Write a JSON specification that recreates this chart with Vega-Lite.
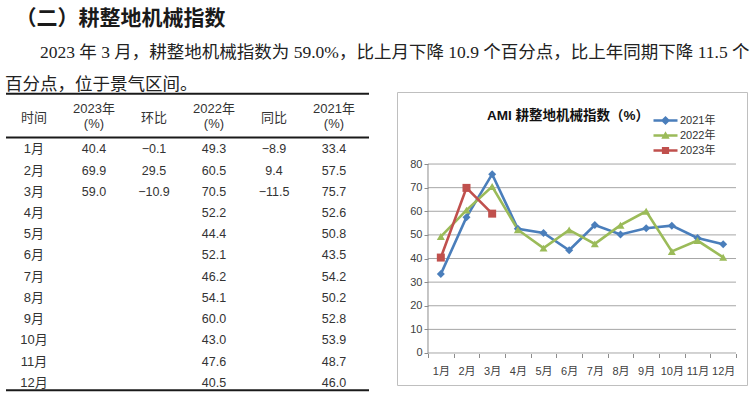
{
  "$schema": "https://vega.github.io/schema/vega-lite/v6.json",
  "padding": {"left": 5, "top": 8, "right": 0, "bottom": 0},
  "background": "white",
  "datasets": {
    "table": [
      {"月份": "1月", "2023年": 40.4, "环比": -0.1, "2022年": 49.3, "同比": -8.9, "2021年": 33.4},
      {"月份": "2月", "2023年": 69.9, "环比": 29.5, "2022年": 60.5, "同比": 9.4, "2021年": 57.5},
      {"月份": "3月", "2023年": 59.0, "环比": -10.9, "2022年": 70.5, "同比": -11.5, "2021年": 75.7},
      {"月份": "4月", "2023年": null, "环比": null, "2022年": 52.2, "同比": null, "2021年": 52.6},
      {"月份": "5月", "2023年": null, "环比": null, "2022年": 44.4, "同比": null, "2021年": 50.8},
      {"月份": "6月", "2023年": null, "环比": null, "2022年": 52.1, "同比": null, "2021年": 43.5},
      {"月份": "7月", "2023年": null, "环比": null, "2022年": 46.2, "同比": null, "2021年": 54.2},
      {"月份": "8月", "2023年": null, "环比": null, "2022年": 54.1, "同比": null, "2021年": 50.2},
      {"月份": "9月", "2023年": null, "环比": null, "2022年": 60.0, "同比": null, "2021年": 52.8},
      {"月份": "10月", "2023年": null, "环比": null, "2022年": 43.0, "同比": null, "2021年": 53.9},
      {"月份": "11月", "2023年": null, "环比": null, "2022年": 47.6, "同比": null, "2021年": 48.7},
      {"月份": "12月", "2023年": null, "环比": null, "2022年": 40.5, "同比": null, "2021年": 46.0}
    ],
    "header": [
      {"列": "时间", "表头": "时间"},
      {"列": "2023年", "表头": "2023年\n(%)"},
      {"列": "环比", "表头": "环比"},
      {"列": "2022年", "表头": "2022年\n(%)"},
      {"列": "同比", "表头": "同比"},
      {"列": "2021年", "表头": "2021年\n(%)"}
    ],
    "grid": [
      {"刻度": 0}, {"刻度": 10}, {"刻度": 20}, {"刻度": 30}, {"刻度": 40},
      {"刻度": 50}, {"刻度": 60}, {"刻度": 70}, {"刻度": 80}
    ]
  },
  "title": {
    "text": "\u200b　（二）耕整地机械指数",
    "subtitle": [
      "\u200b　　2023 年 3 月，耕整地机械指数为 59.0%，比上月下降 10.9 个百分点，比上年同期下降 11.5 个",
      "百分点，位于景气区间。"
    ],
    "anchor": "start",
    "frame": "bounds",
    "font": "Noto Sans CJK SC",
    "fontSize": 21,
    "fontWeight": "bold",
    "color": "#1a1a1a",
    "subtitleFont": "Liberation Serif, Noto Sans CJK SC",
    "subtitleFontSize": 17.5,
    "subtitleFontWeight": "normal",
    "subtitleColor": "#222222",
    "subtitleLineHeight": 32,
    "subtitlePadding": 15,
    "offset": -2
  },
  "spacing": 26,
  "hconcat": [
    {
      "width": 363,
      "height": 296,
      "view": {"stroke": null},
      "layer": [
        {
          "data": {"values": [{}]},
          "mark": {"type": "rule", "color": "#1a1a1a", "strokeWidth": 2, "yOffset": -31.4},
          "encoding": {
            "y": {"datum": "时间", "type": "ordinal", "axis": null,
                  "scale": {"type": "point", "domain": ["时间", "1月", "2月", "3月", "4月", "5月", "6月", "7月", "8月", "9月", "10月", "11月", "12月"], "padding": 0.9745, "align": 0.8}}
          }
        },
        {
          "data": {"values": [{}]},
          "mark": {"type": "rule", "color": "#1a1a1a", "strokeWidth": 2, "yOffset": 12.3},
          "encoding": {"y": {"datum": "时间", "type": "ordinal", "axis": null}}
        },
        {
          "data": {"values": [{}]},
          "mark": {"type": "rule", "color": "#1a1a1a", "strokeWidth": 2, "yOffset": 10.5},
          "encoding": {"y": {"datum": "12月", "type": "ordinal", "axis": null}}
        },
        {
          "data": {"name": "header"},
          "transform": [{"filter": {"field": "列", "oneOf": ["时间", "环比", "同比"]}}],
          "mark": {"type": "text", "dy": -7, "fontSize": 13, "font": "Liberation Sans Narrow, Liberation Sans, Noto Sans CJK SC", "color": "#333333", "baseline": "middle", "align": "center"},
          "encoding": {
            "x": {"field": "列", "type": "ordinal", "axis": null,
                  "scale": {"type": "point", "domain": ["时间", "2023年", "环比", "2022年", "同比", "2021年"], "padding": 0.525, "align": 0.444}},
            "y": {"datum": "时间", "type": "ordinal", "axis": null},
            "text": {"field": "表头", "type": "nominal"}
          }
        },
        {
          "data": {"name": "header"},
          "transform": [{"filter": {"not": {"field": "列", "oneOf": ["时间", "环比", "同比"]}}}],
          "mark": {"type": "text", "lineBreak": "\n", "lineHeight": 15, "dy": -16, "fontSize": 13, "font": "Liberation Sans Narrow, Liberation Sans, Noto Sans CJK SC", "color": "#333333", "baseline": "middle", "align": "center"},
          "encoding": {
            "x": {"field": "列", "type": "ordinal", "axis": null},
            "y": {"datum": "时间", "type": "ordinal", "axis": null},
            "text": {"field": "表头", "type": "nominal"}
          }
        },
        {
          "data": {"name": "table"},
          "mark": {"type": "text", "dy": 3, "fontSize": 13, "font": "Liberation Sans Narrow, Liberation Sans, Noto Sans CJK SC", "color": "#333333", "baseline": "middle", "align": "center"},
          "encoding": {
            "x": {"datum": "时间", "type": "ordinal", "axis": null},
            "y": {"field": "月份", "type": "ordinal", "axis": null},
            "text": {"field": "月份", "type": "nominal"}
          }
        },
        {
          "data": {"name": "table"},
          "transform": [
            {"fold": ["2023年", "环比", "2022年", "同比", "2021年"], "as": ["列", "值"]},
            {"filter": "isValid(datum['值'])"}
          ],
          "mark": {"type": "text", "dy": 3, "fontSize": 12.5, "font": "Liberation Sans Narrow, Liberation Sans, Noto Sans CJK SC", "color": "#333333", "baseline": "middle", "align": "center"},
          "encoding": {
            "x": {"field": "列", "type": "ordinal", "axis": null},
            "y": {"field": "月份", "type": "ordinal", "axis": null},
            "text": {"field": "值", "type": "quantitative", "format": ".1f"}
          }
        }
      ]
    },
    {
      "width": 350,
      "height": 293,
      "view": {"stroke": "#bfbfbf", "strokeWidth": 1},
      "title": {
        "text": "AMI 耕整地机械指数（%）",
        "offset": -30,
        "dx": -4,
        "anchor": "middle",
        "font": "Liberation Sans, Noto Sans CJK SC",
        "fontSize": 13.5,
        "fontWeight": "bold",
        "color": "#111111"
      },
      "layer": [
        {
          "data": {"name": "grid"},
          "mark": {"type": "rule", "color": "#a6a6a6", "strokeWidth": 1},
          "encoding": {
            "y": {"field": "刻度", "type": "quantitative",
                  "scale": {"domain": [-13.55, 110.5], "nice": false, "zero": false},
                  "axis": {"orient": "left", "offset": -31, "values": [0, 10, 20, 30, 40, 50, 60, 70, 80], "tickCount": 20, "labelOverlap": false, "domain": false, "grid": false, "ticks": true, "tickSize": 4, "tickColor": "#8c8c8c", "labelFontSize": 11, "labelColor": "#404040", "labelFont": "Liberation Sans", "labelPadding": 2, "title": null}},
            "x": {"datum": "1月", "type": "ordinal", "bandPosition": 0,
                  "scale": {"type": "band", "domain": ["1月", "2月", "3月", "4月", "5月", "6月", "7月", "8月", "9月", "10月", "11月", "12月"], "paddingInner": 0, "paddingOuter": 0.818, "align": 0.738},
                  "axis": {"orient": "bottom", "offset": -31.5, "domain": false, "tickBand": "extent", "tickSize": 4, "tickColor": "#8c8c8c", "labelFontSize": 11, "labelColor": "#404040", "labelFont": "Liberation Sans, Noto Sans CJK SC", "labelPadding": 8, "labelAngle": 0, "labelOverlap": false, "title": null}},
            "x2": {"datum": "12月", "bandPosition": 1}
          }
        },
        {
          "data": {"values": [{}]},
          "mark": {"type": "rule", "color": "#8c8c8c", "strokeWidth": 1},
          "encoding": {
            "x": {"datum": "1月", "type": "ordinal", "bandPosition": 0},
            "y": {"datum": 0, "type": "quantitative"},
            "y2": {"datum": 80}
          }
        },
        {
          "data": {"name": "table"},
          "transform": [
            {"fold": ["2021年", "2022年", "2023年"], "as": ["年份", "指数"]},
            {"filter": "isValid(datum['指数'])"}
          ],
          "mark": {"type": "line", "strokeWidth": 2.6},
          "encoding": {
            "x": {"field": "月份", "type": "ordinal"},
            "y": {"field": "指数", "type": "quantitative"},
            "detail": {"field": "年份", "type": "nominal"},
            "color": {
              "condition": [
                {"test": "datum['年份'] === '2021年'", "value": "#4a7ebb"},
                {"test": "datum['年份'] === '2022年'", "value": "#9bbb59"}
              ],
              "value": "#c0504d"
            }
          }
        },
        {
          "data": {"name": "table"},
          "transform": [
            {"fold": ["2021年", "2022年", "2023年"], "as": ["年份", "指数"]},
            {"filter": "isValid(datum['指数'])"}
          ],
          "mark": {"type": "point", "filled": true, "opacity": 1, "size": 64},
          "encoding": {
            "x": {"field": "月份", "type": "ordinal"},
            "y": {"field": "指数", "type": "quantitative"},
            "color": {
              "condition": [
                {"test": "datum['年份'] === '2021年'", "value": "#4a7ebb"},
                {"test": "datum['年份'] === '2022年'", "value": "#9bbb59"}
              ],
              "value": "#c0504d"
            },
            "shape": {
              "condition": [
                {"test": "datum['年份'] === '2021年'", "value": "diamond"},
                {"test": "datum['年份'] === '2022年'", "value": "triangle-up"}
              ],
              "value": "square"
            }
          }
        },
        {
          "data": {"name": "table"},
          "transform": [
            {"fold": ["2021年", "2022年", "2023年"], "as": ["年份", "指数"]},
            {"filter": "isValid(datum['指数'])"}
          ],
          "mark": {"type": "point", "filled": true, "opacity": 0, "size": 64},
          "encoding": {
            "x": {"field": "月份", "type": "ordinal"},
            "y": {"field": "指数", "type": "quantitative"},
            "color": {"field": "年份", "type": "nominal",
                      "scale": {"domain": ["2021年", "2022年", "2023年"], "range": ["#4a7ebb", "#9bbb59", "#c0504d"]},
                      "legend": {"orient": "none", "legendX": 654, "legendY": 23, "title": null, "symbolSize": 64, "symbolStrokeWidth": 0, "symbolOpacity": 1, "labelFontSize": 11, "labelFont": "Liberation Sans, Noto Sans CJK SC", "labelColor": "#333333", "labelOffset": 9, "rowPadding": 3, "padding": 0}},
            "shape": {"field": "年份", "type": "nominal",
                      "scale": {"domain": ["2021年", "2022年", "2023年"], "range": [
                        "M-3,-0.33H3V0.33H-3Z M0,-1.15L1.15,0L0,1.15L-1.15,0Z",
                        "M-3,-0.33H3V0.33H-3Z M0,-1.05L1.05,0.8L-1.05,0.8Z",
                        "M-3,-0.33H3V0.33H-3Z M-0.9,-0.9H0.9V0.9H-0.9Z"
                      ]},
                      "legend": {"orient": "none", "legendX": 654, "legendY": 23, "title": null, "symbolSize": 64, "symbolStrokeWidth": 0, "symbolOpacity": 1, "labelFontSize": 11, "labelFont": "Liberation Sans, Noto Sans CJK SC", "labelColor": "#333333", "labelOffset": 9, "rowPadding": 3, "padding": 0}}
          }
        }
      ]
    }
  ],
  "config": {
    "font": "Noto Sans CJK SC",
    "view": {"stroke": null}
  }
}
